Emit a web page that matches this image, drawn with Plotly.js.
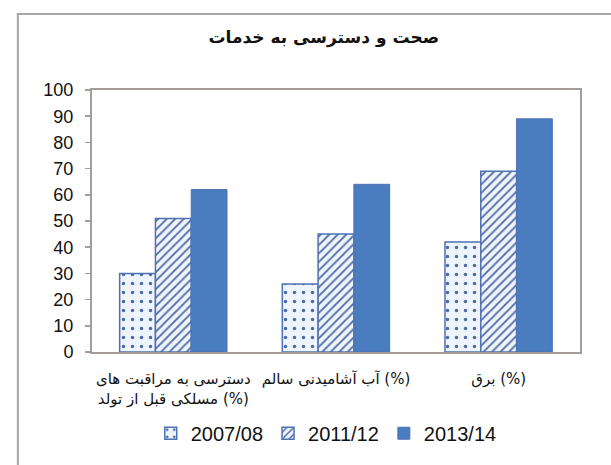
<!DOCTYPE html>
<html>
<head>
<meta charset="utf-8">
<script src="https://cdn.plot.ly/plotly-3.0.1.min.js"></script>
<style>
  html, body { margin: 0; padding: 0; background: #fff; }
  #chart { width: 611px; height: 465px; }
</style>
</head>
<body>
<div id="chart"></div>
<script>
var chartTitle = 'صحت و دسترسی به خدمات';
var categories = [
  'دسترسی به مراقبت های<br>مسلکی قبل از تولد (%)',
  'آب آشامیدنی سالم (%)',
  'برق (%)'
];
var seriesNames = ['2007/08', '2011/12', '2013/14'];
var values0708 = [30, 26, 42];
var values1112 = [51, 45, 69];
var values1314 = [62, 64, 89];
var yTicks = [0, 10, 20, 30, 40, 50, 60, 70, 80, 90, 100];

var blue = '#4a7cc0';
var edge = '#4f72b3';
var frameGrey = '#a39c9a';
var lightFill = '#eef4fb';

var traces = [
  {
    type: 'bar',
    name: seriesNames[0],
    x: categories,
    y: values0708,
    marker: {
      color: lightFill,
      line: { color: edge, width: 1.5 },
      pattern: { shape: '.', fgcolor: '#4d6aa6', bgcolor: lightFill, size: 9, solidity: 0.12, fillmode: 'replace' }
    },
    hoverinfo: 'y'
  },
  {
    type: 'bar',
    name: seriesNames[1],
    x: categories,
    y: values1112,
    marker: {
      color: lightFill,
      line: { color: edge, width: 1.5 },
      pattern: { shape: '/', fgcolor: '#4d6aa6', bgcolor: lightFill, size: 6, solidity: 0.3, fillmode: 'replace' }
    },
    hoverinfo: 'y'
  },
  {
    type: 'bar',
    name: seriesNames[2],
    x: categories,
    y: values1314,
    marker: {
      color: blue,
      line: { color: edge, width: 1 }
    },
    hoverinfo: 'y'
  }
];

var layout = {
  width: 611,
  height: 465,
  paper_bgcolor: '#ffffff',
  plot_bgcolor: '#ffffff',
  font: { family: 'Liberation Sans, Arial, sans-serif', color: '#111111' },
  margin: { l: 92, r: 31, t: 90, b: 106 },
  barmode: 'group',
  bargap: 0.34,
  bargroupgap: 0,
  title: {
    text: '<b>' + chartTitle + '</b>',
    font: { family: 'DejaVu Sans, sans-serif', size: 17, color: '#111111' },
    xref: 'paper',
    x: 0.475,
    xanchor: 'center',
    y: 0.92,
    yanchor: 'middle'
  },
  xaxis: {
    showline: true,
    linecolor: frameGrey,
    linewidth: 2,
    mirror: true,
    ticks: '',
    ticklabelstandoff: 12,
    tickfont: { family: 'DejaVu Sans, sans-serif', size: 15, color: '#111111' },
    fixedrange: true
  },
  yaxis: {
    range: [0, 100],
    tickvals: yTicks,
    showgrid: false,
    zeroline: false,
    showline: true,
    linecolor: frameGrey,
    linewidth: 2,
    mirror: true,
    ticks: 'outside',
    ticklen: 5,
    tickcolor: frameGrey,
    tickwidth: 1.5,
    ticklabelstandoff: 8,
    tickfont: { size: 18, color: '#111111' },
    fixedrange: true
  },
  showlegend: true,
  legend: {
    orientation: 'h',
    xref: 'paper',
    x: 0.48,
    xanchor: 'center',
    y: -0.31,
    yanchor: 'middle',
    font: { size: 20, color: '#111111' },
    itemwidth: 30,
    traceorder: 'normal'
  },
  shapes: [
    {
      type: 'rect',
      xref: 'paper', yref: 'paper',
      x0: -0.152, x1: 1.3,
      y0: -0.6, y1: 1.29,
      line: { color: '#a8a6a4', width: 2 },
      fillcolor: 'rgba(0,0,0,0)',
      layer: 'below'
    }
  ]
};

Plotly.newPlot('chart', traces, layout, { displayModeBar: false, staticPlot: true });
</script>
</body>
</html>
